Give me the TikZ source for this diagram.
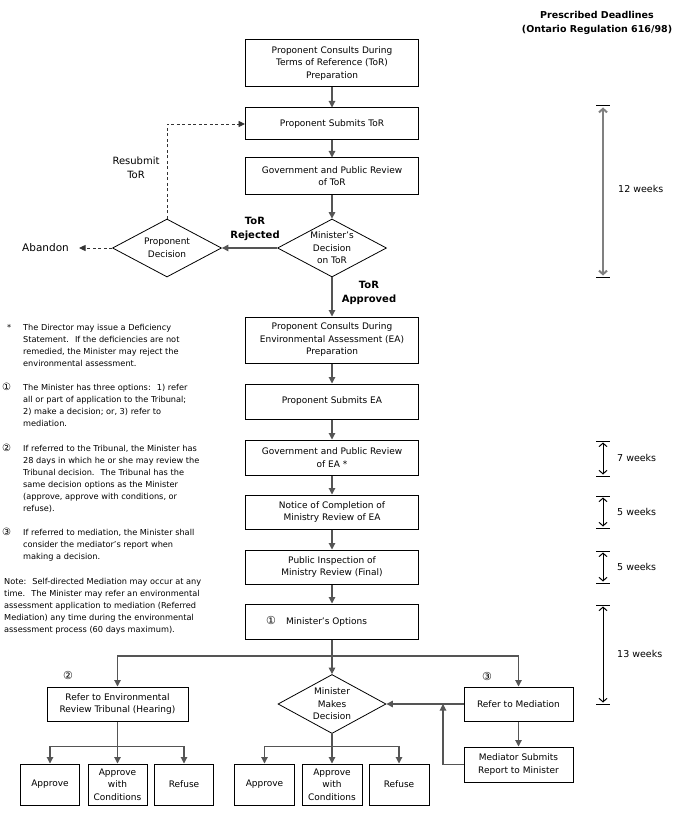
\documentclass[tikz,border=0pt]{standalone}
\usepackage{fontspec}
\setmainfont{DejaVu Sans}
\usetikzlibrary{arrows.meta,shapes.geometric}
\definecolor{conncol}{HTML}{555555}
\definecolor{spangray}{HTML}{808080}
\begin{document}
\begin{tikzpicture}[x=1pt,y=-1pt,
  box/.style={draw=black,line width=1pt,minimum width=173pt,align=center,inner sep=1pt,font=\fontsize{9}{12.5}\selectfont},
  sbox/.style={draw=black,line width=1pt,align=center,inner sep=1pt,font=\fontsize{9}{12.5}\selectfont},
  diam/.style={diamond,draw=black,line width=0.8pt,minimum width=109pt,minimum height=58pt,inner sep=0pt},
  dtext/.style={align=center,inner sep=0pt,font=\fontsize{9}{12.5}\selectfont},
  conn/.style={draw=conncol,line width=1.1pt,-{Triangle[length=6.5pt,width=6.5pt]}},
  dconn/.style={draw=black!80,line width=0.9pt,dash pattern=on 3pt off 2.5pt,-{Triangle[length=6.5pt,width=6pt]}},
  lbl/.style={font=\fontsize{10}{14}\selectfont\bfseries,align=center,inner sep=0pt},
  notetxt/.style={font=\fontsize{8.2}{12.1}\selectfont,anchor=base west,inner sep=0pt},
  circ/.style={font=\fontsize{11}{12}\selectfont,inner sep=0pt},
  wk/.style={font=\fontsize{9.5}{12}\selectfont,anchor=west,inner sep=0pt},
  wspan/.style={line width=1pt,{Straight Barb[length=3.5pt,width=8pt]}-{Straight Barb[length=3.5pt,width=8pt]},shorten <=1.5pt,shorten >=1.5pt},
  capbar/.style={line width=1pt},
]
\fill[white] (0,0) rectangle (675,813);
\useasboundingbox (0,0) rectangle (675,813);

% title
\node[font=\fontsize{9.5}{14}\selectfont\bfseries,align=center,inner sep=0pt] (title) at (597,23) {Prescribed Deadlines\\(Ontario Regulation 616/98)};

% ToR part
\node[box,minimum height=47pt] (b1) at (332,63.5) {Proponent Consults During\\Terms of Reference (ToR)\\Preparation};
\node[box,minimum height=32pt] (b2) at (332,124) {Proponent Submits ToR};
\node[box,minimum height=36pt] (b3) at (332,176) {Government and Public Review\\of ToR};
\node[diam] (md) at (332,248) {};
\node[dtext] (mdt) at (md.center) {Minister’s\\Decision\\on ToR};
\node[diam] (pd) at (167,248) {};
\node[dtext] (pdt) at (pd.center) {Proponent\\Decision};
\node[font=\fontsize{10.5}{13}\selectfont,inner sep=0pt] (ab) at (45.5,248) {Abandon};
\node[font=\fontsize{10}{14}\selectfont,align=center,inner sep=0pt] (rs) at (136,168) {Resubmit\\ToR};
\node[lbl] (rej) at (255,229) {ToR\\Rejected};
\node[lbl] (app) at (369,292.5) {ToR\\Approved};

% EA part
\node[box,minimum height=46pt] (b4) at (332,340) {Proponent Consults During\\Environmental Assessment (EA)\\Preparation};
\node[box,minimum height=35pt] (b5) at (332,401.5) {Proponent Submits EA};
\node[box,minimum height=35pt] (b6) at (332,457.5) {Government and Public Review\\of EA *};
\node[box,minimum height=34pt] (b7) at (332,512) {Notice of Completion of\\Ministry Review of EA};
\node[box,minimum height=34pt] (b8) at (332,567) {Public Inspection of\\Ministry Review (Final)};
\node[box,minimum height=35pt] (b9) at (332,621.5) {};
\node[dtext,anchor=west] (b9t) at ([xshift=21pt]b9.west) {{\fontsize{11}{12}\selectfont ①}\hspace{10pt}Minister’s Options};

% options
\node[sbox,minimum width=141pt,minimum height=34pt] (trib) at (117.5,704) {Refer to Environmental\\Review Tribunal (Hearing)};
\node[diam,minimum width=108pt,minimum height=59pt] (mmd) at (332,704) {};
\node[dtext] (mmdt) at (mmd.center) {Minister\\Makes\\Decision};
\node[sbox,minimum width=109pt,minimum height=34pt] (med) at (518.5,704) {Refer to Mediation};
\node[sbox,minimum width=109pt,minimum height=35pt] (rep) at (518.5,764.5) {Mediator Submits\\Report to Minister};
\node[circ] (c2) at (68,675) {②};
\node[circ] (c3) at (487,676) {③};

\node[sbox,minimum width=59pt,minimum height=41pt] (ta) at (50,784.5) {Approve};
\node[sbox,minimum width=59pt,minimum height=41pt] (tc) at (117.5,784.5) {Approve\\with\\Conditions};
\node[sbox,minimum width=59pt,minimum height=41pt] (tr) at (184,784.5) {Refuse};
\node[sbox,minimum width=60pt,minimum height=41pt] (ma) at (264.5,784.5) {Approve};
\node[sbox,minimum width=60pt,minimum height=41pt] (mc) at (332,784.5) {Approve\\with\\Conditions};
\node[sbox,minimum width=60pt,minimum height=41pt] (mr) at (399,784.5) {Refuse};

% connectors ToR
\draw[conn] (b1) -- (b2);
\draw[conn] (b2) -- (b3);
\draw[conn] (b3) -- (md);
\draw[conn] (md.west) -- (pd.east);
\draw[conn] (md.south) -- (b4.north);
\draw[dconn] (pd.north) |- (b2.west);
\draw[dconn] (pd.west) -- ([xshift=10pt]ab.east);

% connectors EA
\draw[conn] (b4) -- (b5);
\draw[conn] (b5) -- (b6);
\draw[conn] (b6) -- (b7);
\draw[conn] (b7) -- (b8);
\draw[conn] (b8) -- (b9);
\coordinate (split) at (332,656);
\draw[conn] (b9.south) -- (mmd.north);
\draw[conn] (split) -| (trib.north);
\draw[conn] (split) -| (med.north);

\coordinate (tsplit) at (117.5,746.5);
\draw[conn] (trib) -- (tc);
\draw[conn] (tsplit) -| (ta.north);
\draw[conn] (tsplit) -| (tr.north);
\coordinate (msplit) at (332,746.5);
\draw[conn] (mmd.south) -- (mc.north);
\draw[conn] (msplit) -| (ma.north);
\draw[conn] (msplit) -| (mr.north);

\draw[conn] (med.west) -- (mmd.east);
\draw[conn] (med) -- (rep);
\coordinate (fb) at (443,704);
\draw[conn] (rep.west) -| (fb);

% deadlines
\coordinate (w1t) at (603,106); \coordinate (w1b) at (603,277);
\coordinate (w2t) at (603,441); \coordinate (w2b) at (603,476);
\coordinate (w3t) at (603,496); \coordinate (w3b) at (603,528);
\coordinate (w4t) at (603,551); \coordinate (w4b) at (603,583);
\coordinate (w5t) at (603,605); \coordinate (w5b) at (603,704);
\foreach \c in {w1t,w1b,w2t,w2b,w3t,w3b,w4t,w4b,w5t,w5b}
  \draw[capbar] ([xshift=-7pt]\c) -- ([xshift=7pt]\c);
\draw[wspan,draw=spangray,line width=2pt] (w1t) -- (w1b);
\draw[wspan] (w2t) -- (w2b);
\draw[wspan] (w3t) -- (w3b);
\draw[wspan] (w4t) -- (w4b);
\draw[wspan] (w5t) -- (w5b);
\node[wk] (k1) at (618,189) {12 weeks};
\node[wk] (k2) at (617,458) {7 weeks};
\node[wk] (k3) at (617,512) {5 weeks};
\node[wk] (k4) at (617,567) {5 weeks};
\node[wk] (k5) at (617,654) {13 weeks};

% notes
\node[notetxt] (m0) at (7,330) {*};
\node[notetxt,font=\fontsize{10}{12}\selectfont] (m1) at (2,{330+5*12.1}) {①};
\node[notetxt,font=\fontsize{10}{12}\selectfont] (m2) at (2,{330+10*12.1}) {②};
\node[notetxt,font=\fontsize{10}{12}\selectfont] (m3) at (2,{330+17*12.1}) {③};
\foreach \k/\t in {
  0/{The Director may issue a Deficiency},
  1/{Statement.~ If the deficiencies are not},
  2/{remedied, the Minister may reject the},
  3/{environmental assessment.},
  5/{The Minister has three options:~ 1) refer},
  6/{all or part of application to the Tribunal;},
  7/{2) make a decision; or, 3) refer to},
  8/{mediation.},
  10/{If referred to the Tribunal, the Minister has},
  11/{28 days in which he or she may review the},
  12/{Tribunal decision.~ The Tribunal has the},
  13/{same decision options as the Minister},
  14/{(approve, approve with conditions, or},
  15/{refuse).},
  17/{If referred to mediation, the Minister shall},
  18/{consider the mediator’s report when},
  19/{making a decision.}}
  \node[notetxt] (nl\k) at (23,{330+12.1*\k}) {\t};
\foreach \k/\t in {
  21/{Note:~ Self-directed Mediation may occur at any},
  22/{time.~ The Minister may refer an environmental},
  23/{assessment application to mediation (Referred},
  24/{Mediation) any time during the environmental},
  25/{assessment process (60 days maximum).}}
  \node[notetxt] (nl\k) at (4,{330+12.1*\k}) {\t};
\end{tikzpicture}
\end{document}
